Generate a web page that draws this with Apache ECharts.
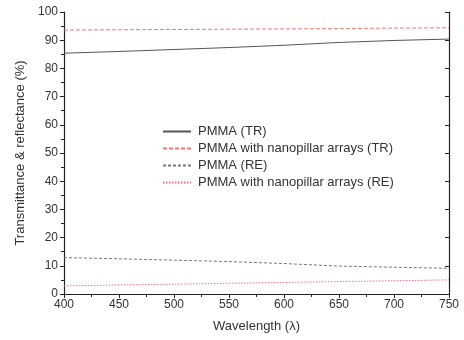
<!DOCTYPE html>
<html><head><meta charset="utf-8">
<script src="https://cdn.jsdelivr.net/npm/echarts@6/dist/echarts.min.js"></script>
<style>html,body{margin:0;padding:0;background:#fff}#c{width:464px;height:340px}</style>
</head><body><div id="c"></div>
<script>
const wavelength = [400, 450, 500, 550, 600, 650, 700, 750];
const pmmaTR = [85.4, 86.0, 86.7, 87.4, 88.2, 89.2, 89.9, 90.4];
const nanoTR = [93.6, 93.7, 93.8, 93.9, 94.0, 94.1, 94.3, 94.4];
const pmmaRE = [12.9, 12.5, 12.0, 11.5, 10.8, 9.9, 9.5, 9.1];
const nanoRE = [2.9, 3.2, 3.5, 3.8, 4.1, 4.4, 4.7, 5.0];
const seriesNames = ['PMMA (TR)', 'PMMA with nanopillar arrays (TR)', 'PMMA (RE)', 'PMMA with nanopillar arrays (RE)'];
const xTitle = 'Wavelength (\u03bb)';
const yTitle = 'Transmittance & reflectance (%)';

const pairs = a => wavelength.map((w, i) => [w, a[i]]);
const font = 'Liberation Sans, Arial, sans-serif';
const chart = echarts.init(document.getElementById('c'));
const axisCommon = {
  axisLine: {lineStyle: {color: '#222', width: 1.2}},
  splitLine: {show: false}
};
chart.setOption({
  animation: false,
  grid: {left: 64, right: 15, top: 12, bottom: 46},
  legend: {
    orient: 'vertical', left: 157, top: 120,
    itemWidth: 28, itemHeight: 12, itemGap: 4,
    itemStyle: {opacity: 0},
    textStyle: {fontFamily: font, fontSize: 13, color: '#333', padding: [0, 0, 0, 2]},
    data: seriesNames
  },
  xAxis: [{
    type: 'value', min: 400, max: 750, interval: 50,
    name: xTitle, nameLocation: 'middle', nameGap: 26,
    nameTextStyle: {fontFamily: font, fontSize: 13, color: '#333'},
    axisLabel: {fontFamily: font, fontSize: 12, color: '#333', margin: 5},
    axisTick: {inside: false, length: 4, lineStyle: {color: '#222'}},
    minorTick: {show: true, splitNumber: 2, length: 3, lineStyle: {color: '#222'}},
    ...axisCommon
  }, {
    type: 'value', min: 400, max: 750, interval: 50, position: 'top',
    axisLabel: {show: false},
    axisTick: {inside: true, length: 4, lineStyle: {color: '#222'}},
    minorTick: {show: false},
    ...axisCommon
  }],
  yAxis: [{
    type: 'value', min: 0, max: 100, interval: 10,
    name: yTitle, nameLocation: 'middle', nameGap: 37, nameRotate: 90,
    nameTextStyle: {fontFamily: font, fontSize: 13, color: '#333'},
    axisLabel: {fontFamily: font, fontSize: 12, color: '#333', margin: 6},
    axisTick: {inside: false, length: 4, lineStyle: {color: '#222'}},
    minorTick: {show: true, splitNumber: 2, length: 3, lineStyle: {color: '#222'}},
    ...axisCommon
  }, {
    type: 'value', min: 0, max: 100, interval: 10, position: 'right',
    axisLabel: {show: false},
    axisTick: {inside: true, length: 4, lineStyle: {color: '#222'}},
    ...axisCommon
  }],
  series: [
    {name: seriesNames[0], type: 'line', symbol: 'none', data: pairs(pmmaTR),
     lineStyle: {color: '#555', width: 1, type: 'solid'}, itemStyle: {color: '#555'}},
    {name: seriesNames[1], type: 'line', symbol: 'none', data: pairs(nanoTR),
     lineStyle: {color: '#e97a7a', width: 1, type: [4, 2]}, itemStyle: {color: '#e97a7a'}},
    {name: seriesNames[2], type: 'line', symbol: 'none', data: pairs(pmmaRE),
     lineStyle: {color: '#777', width: 1, type: [3, 2]}, itemStyle: {color: '#777'}},
    {name: seriesNames[3], type: 'line', symbol: 'none', data: pairs(nanoRE),
     lineStyle: {color: '#ee6f8a', width: 1, type: [1.5, 1.5]}, itemStyle: {color: '#ee6f8a'}}
  ]
});
</script></body></html>
